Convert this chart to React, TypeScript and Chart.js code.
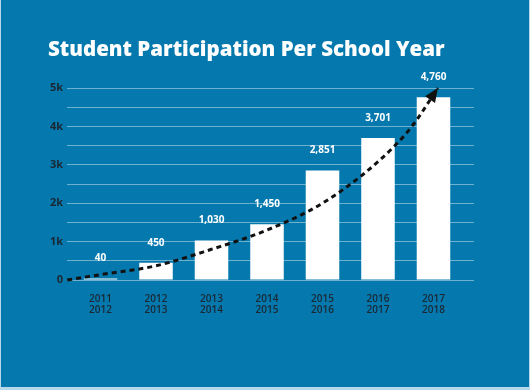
import React, { useEffect, useRef } from "react";
import { Chart, registerables } from "chart.js";

Chart.register(...registerables);

const TITLE = "Student Participation Per School Year";
const categoryLabels: string[][] = [
  ["2011", "2012"],
  ["2012", "2013"],
  ["2013", "2014"],
  ["2014", "2015"],
  ["2015", "2016"],
  ["2016", "2017"],
  ["2017", "2018"],
];
const participation = [40, 450, 1030, 1450, 2851, 3701, 4760];
const valueLabels = ["40", "450", "1,030", "1,450", "2,851", "3,701", "4,760"];
// trend arrow path, in (category index, value) space
const trendX = [-0.6, 0, 1, 2, 3, 4, 5, 5.6, 6.08];
const trendY = [0, 140, 370, 800, 1300, 2000, 3080, 3980, 5000];
const yTickStep = 500;
const yMax = 5000;

const BLUE = "#0579ad";
const DARK = "#1b2733";

const framePlugin = {
  id: "frame",
  beforeDraw(chart: any) {
    const ctx = chart.ctx;
    ctx.save();
    ctx.fillStyle = "#b6d8ea";
    ctx.fillRect(0, 0, chart.width, chart.height);
    ctx.fillStyle = BLUE;
    ctx.fillRect(1, 0, chart.width - 2, chart.height - 3);
    ctx.restore();
  },
};

const overlayPlugin = {
  id: "overlay",
  afterDatasetsDraw(chart: any) {
    const ctx = chart.ctx;
    ctx.save();
    // value labels
    const barMeta = chart.getDatasetMeta(1);
    ctx.fillStyle = "#ffffff";
    ctx.font = "bold 10px 'Open Sans'";
    ctx.textAlign = "center";
    ctx.textBaseline = "middle";
    barMeta.data.forEach((el: any, i: number) => {
      ctx.fillText(valueLabels[i], el.x, el.y - 20);
    });
    // arrow head
    const lineMeta = chart.getDatasetMeta(0);
    const pts = lineMeta.data;
    const tip = pts[pts.length - 1];
    const prev = pts[pts.length - 2];
    const ang = Math.atan2(tip.y - prev.y, tip.x - prev.x);
    const len = 14;
    const half = 6;
    const bx = tip.x - Math.cos(ang) * len;
    const by = tip.y - Math.sin(ang) * len;
    ctx.fillStyle = "#111111";
    ctx.beginPath();
    ctx.moveTo(tip.x, tip.y);
    ctx.lineTo(bx + Math.sin(ang) * half, by - Math.cos(ang) * half);
    ctx.lineTo(bx - Math.sin(ang) * half, by + Math.cos(ang) * half);
    ctx.closePath();
    ctx.fill();
    ctx.restore();
  },
};

export default function App() {
  const ref = useRef<HTMLCanvasElement>(null);
  useEffect(() => {
    document.body.style.margin = "0";
    const chart = new Chart(ref.current!, {
      type: "bar",
      data: {
        datasets: [
          {
            type: "line",
            data: trendX.map((x, i) => ({ x, y: trendY[i] })),
            borderColor: "#111111",
            borderWidth: 3,
            borderDash: [5, 4],
            pointRadius: 0,
            cubicInterpolationMode: "monotone",
            clip: false,
            order: 0,
          } as any,
          {
            type: "bar",
            data: participation.map((y, i) => ({ x: i, y })),
            backgroundColor: "#ffffff",
            categoryPercentage: 1,
            barPercentage: 0.604,
            order: 1,
          } as any,
        ],
      },
      options: {
        responsive: false,
        animation: false,
        devicePixelRatio: 1,
        layout: { padding: { left: 48, right: 56, top: 0, bottom: 0 } },
        plugins: {
          legend: { display: false },
          tooltip: { enabled: false },
          title: {
            display: true,
            text: TITLE,
            align: "start",
            color: "#ffffff",
            font: { family: "'Open Sans'", weight: "800", size: 20.5, lineHeight: 1.2 },
            padding: { top: 38, bottom: 25.4 },
          },
        },
        scales: {
          x: {
            type: "linear",
            offset: false,
            min: -0.604,
            max: 6.73,
            grid: { display: false, drawTicks: false },
            border: { display: false },
            afterBuildTicks: (scale: any) => {
              scale.ticks = categoryLabels.map((_, i) => ({ value: i }));
            },
            afterFit: (scale: any) => {
              scale.height = 110;
            },
            ticks: {
              autoSkip: false,
              maxRotation: 0,
              minRotation: 0,
              padding: 14,
              color: DARK,
              font: { family: "'Open Sans'", weight: "600", size: 10, lineHeight: 1.05 },
              callback: (v: any) => categoryLabels[v as number] ?? "",
            },
          },
          y: {
            min: 0,
            max: yMax,
            grid: { color: "rgba(255,255,255,0.42)", lineWidth: 1, drawTicks: false },
            border: { display: false },
            afterFit: (scale: any) => {
              scale.width = 19;
            },
            ticks: {
              stepSize: yTickStep,
              padding: 4,
              color: DARK,
              font: { family: "'Open Sans'", weight: "bold", size: 11 },
              callback: (v: any) =>
                v % 1000 === 0 ? (v === 0 ? "0" : v / 1000 + "k") : "",
            },
          },
        },
      },
      plugins: [framePlugin, overlayPlugin],
    } as any);
    return () => chart.destroy();
  }, []);
  return <canvas ref={ref} width={530} height={390} style={{ display: "block" }} />;
}
